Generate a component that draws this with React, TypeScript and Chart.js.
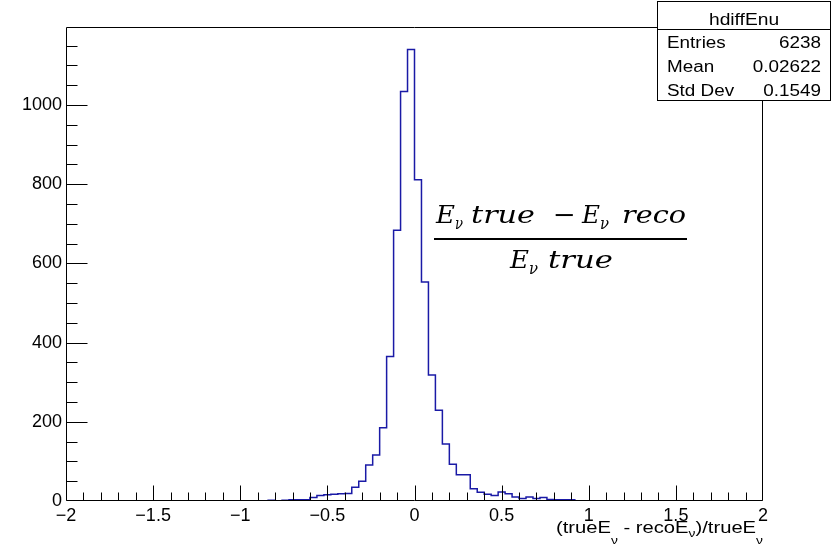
import { useEffect, useRef } from 'react';
import { Chart, registerables } from 'chart.js';

Chart.register(...registerables);

// Histogram bins (low edges) and counts, hdiffEnu
const binLowEdges = [
  -0.84, -0.8, -0.76, -0.72, -0.68, -0.64, -0.6, -0.56, -0.52, -0.48, -0.44,
  -0.4, -0.36, -0.32, -0.28, -0.24, -0.2, -0.16, -0.12, -0.08, -0.04,
  0.0, 0.04, 0.08, 0.12, 0.16, 0.2, 0.24, 0.28, 0.32, 0.36, 0.4,
  0.44, 0.48, 0.52, 0.56, 0.6, 0.64, 0.68, 0.72, 0.76, 0.8, 0.84, 0.88,
];
const binWidth = 0.04;
const binCounts = [
  2, 2, 0, 2, 3, 3, 3, 9, 14, 16, 17,
  18, 19, 35, 50, 91, 116, 185, 365, 684, 1034,
  1140, 811, 553, 318, 229, 144, 93, 66, 66, 31, 22,
  17, 14, 23, 18, 10, 6, 10, 6, 9, 4, 3, 3,
];

const xMin = -2;
const xMax = 2;
const yMax = 1197;
const yTickValues = [0, 200, 400, 600, 800, 1000];
const xTickStep = 0.5;

const statsTitle = 'hdiffEnu';
const statsLabels = ['Entries', 'Mean', 'Std Dev'];
const statsValues = ['6238', '0.02622', '0.1549'];

const SANS = "'Liberation Sans', Arial, Helvetica, sans-serif";
const SERIF = "'DejaVu Serif', 'Liberation Serif', serif";
const LINE_COLOR = '#1a1aa6';

function sText(ctx: CanvasRenderingContext2D, text: string, x: number, y: number, align: string, font: string, sx: number) {
  ctx.save();
  ctx.font = font;
  ctx.textAlign = 'left';
  ctx.textBaseline = 'alphabetic';
  const w = ctx.measureText(text).width * sx;
  const x0 = align === 'left' ? x : align === 'right' ? x - w : x - w / 2;
  ctx.translate(x0, y);
  ctx.scale(sx, 1);
  ctx.fillText(text, 0, 0);
  ctx.restore();
  return w;
}

function fitText(ctx: CanvasRenderingContext2D, text: string, x0: number, x1: number, y: number, font: string) {
  ctx.save();
  ctx.font = font;
  ctx.textAlign = 'left';
  ctx.textBaseline = 'alphabetic';
  const w = ctx.measureText(text).width;
  ctx.translate(x0, y);
  ctx.scale((x1 - x0) / w, 1);
  ctx.fillText(text, 0, 0);
  ctx.restore();
}

const rootPlugin = {
  id: 'rootStyle',
  afterDatasetsDraw(chart: any) {
    const { ctx, chartArea: a, scales } = chart;
    const xs = scales.x;
    const ys = scales.y;
    ctx.save();
    ctx.strokeStyle = '#000';
    ctx.lineWidth = 1;
    const L = Math.round(a.left) + 0.5;
    const R = Math.round(a.right) - 0.5;
    const T = Math.round(a.top) + 0.5;
    const B = Math.round(a.bottom) - 0.5;
    ctx.beginPath();
    ctx.rect(L, T, R - L, B - T);
    for (let k = -20; k <= 20; k++) {
      const v = k / 10;
      const px = Math.min(R, Math.max(L, Math.round(xs.getPixelForValue(v)) + 0.5));
      const len = k % 5 === 0 ? 15 : 8;
      ctx.moveTo(px, B);
      ctx.lineTo(px, B - len);
    }
    for (let k = 1; k * 50 <= ys.max; k++) {
      const v = k * 50;
      const py = Math.min(B, Math.round(ys.getPixelForValue(v)) + 0.5);
      const len = v % 200 === 0 ? 21 : 11;
      ctx.moveTo(L, py);
      ctx.lineTo(L + len, py);
    }
    ctx.stroke();
    ctx.restore();
  },
  afterDraw(chart: any) {
    const { ctx } = chart;
    ctx.save();
    ctx.fillStyle = '#000';

    // Stats box
    ctx.fillStyle = '#fff';
    ctx.fillRect(657, 1, 174, 100);
    ctx.strokeStyle = '#000';
    ctx.lineWidth = 1;
    ctx.strokeRect(657.5, 1.5, 173, 99);
    ctx.beginPath();
    ctx.moveTo(657.5, 29.5);
    ctx.lineTo(830.5, 29.5);
    ctx.stroke();
    ctx.fillStyle = '#000';
    const sf = `16px ${SANS}`;
    sText(ctx, statsTitle, 744, 25, 'center', sf, 1.2);
    statsLabels.forEach((lab, i) => {
      const y = 48 + i * 24;
      sText(ctx, lab, 667, y, 'left', sf, 1.18);
      sText(ctx, statsValues[i], 821, y, 'right', sf, 1.18);
    });

    // Formula annotation
    const fm = `italic 25px ${SERIF}`;
    const fs = `italic 17px ${SERIF}`;
    const fu = `25px ${SERIF}`;
    fitText(ctx, 'E', 436, 455, 223, fm);
    fitText(ctx, 'ν', 455, 463, 229, fs);
    fitText(ctx, 'true', 471, 535, 223, fm);
    fitText(ctx, '−', 553, 576, 223, fu);
    fitText(ctx, 'E', 582, 600, 223, fm);
    fitText(ctx, 'ν', 600, 609, 229, fs);
    fitText(ctx, 'reco', 622, 686, 223, fm);
    ctx.fillRect(434, 238, 253, 2);
    fitText(ctx, 'E', 510, 529, 268, fm);
    fitText(ctx, 'ν', 529, 538, 274, fs);
    fitText(ctx, 'true', 548, 613, 268, fm);

    // X axis title
    const mf = `16px ${SANS}`;
    const subf = `11px ${SANS}`;
    const parts: [string, string, number][] = [
      ['(trueE', mf, 0],
      ['ν', subf, 11],
      [' - recoE', mf, 0],
      ['ν', subf, 4],
      [')/trueE', mf, 0],
      ['ν', subf, 11],
    ];
    let W = 0;
    parts.forEach(([t, f]) => {
      ctx.font = f;
      W += ctx.measureText(t).width;
    });
    const sx = (763 - 556) / W;
    let x = 763 - W * sx;
    parts.forEach(([t, f, dy]) => {
      x += sText(ctx, t, x, 533 + dy, 'left', f, sx);
    });
    ctx.restore();
  },
};

export default function App() {
  const ref = useRef<HTMLCanvasElement>(null);
  useEffect(() => {
    if (!ref.current) return;
    const pts: { x: number; y: number }[] = [{ x: binLowEdges[0], y: 0 }];
    binLowEdges.forEach((e, i) => pts.push({ x: e, y: binCounts[i] }));
    const lastEdge = binLowEdges[binLowEdges.length - 1] + binWidth;
    pts.push({ x: lastEdge, y: binCounts[binCounts.length - 1] });
    pts.push({ x: lastEdge, y: 0 });

    const chart = new Chart(ref.current, {
      type: 'line',
      data: {
        datasets: [
          {
            data: pts,
            stepped: 'after',
            borderColor: LINE_COLOR,
            borderWidth: 1.5,
            pointRadius: 0,
            fill: false,
          } as any,
        ],
      },
      options: {
        animation: false,
        responsive: false,
        devicePixelRatio: 1,
        layout: { padding: { top: 27, right: 77, left: 0, bottom: 0 } },
        plugins: { legend: { display: false }, tooltip: { enabled: false } },
        scales: {
          x: {
            type: 'linear',
            min: xMin,
            max: xMax,
            grid: { display: false, drawTicks: false },
            border: { display: false },
            ticks: {
              stepSize: xTickStep,
              padding: 4,
              color: '#000',
              maxRotation: 0,
              autoSkip: false,
              font: { family: SANS, size: 18 },
              callback: (v: any) => (v < 0 ? '−' + Math.abs(v) : String(v)),
            },
            afterFit: (s: any) => {
              s.height = 46;
            },
          },
          y: {
            type: 'linear',
            min: 0,
            max: yMax,
            grid: { display: false, drawTicks: false },
            border: { display: false },
            afterBuildTicks: (s: any) => {
              s.ticks = yTickValues.map((v) => ({ value: v }));
            },
            ticks: {
              padding: 4,
              color: '#000',
              font: { family: SANS, size: 18 },
              callback: (v: any) => String(v),
            },
            afterFit: (s: any) => {
              s.width = 66;
            },
          },
        },
      },
      plugins: [rootPlugin],
    });
    return () => chart.destroy();
  }, []);

  return (
    <div style={{ position: 'fixed', left: 0, top: 0, width: 840, height: 547, background: '#fff' }}>
      <canvas ref={ref} width={840} height={547} style={{ width: 840, height: 547, display: 'block' }} />
    </div>
  );
}
